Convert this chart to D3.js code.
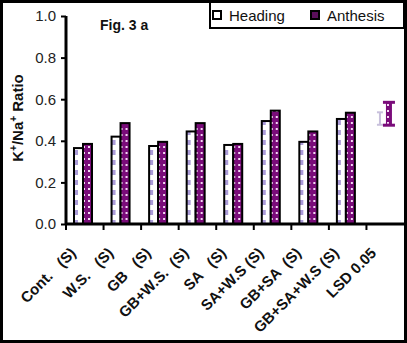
<!DOCTYPE html>
<html>
<head>
<meta charset="utf-8">
<script src="https://cdn.jsdelivr.net/npm/d3@7"></script>
<style>
  body { margin: 0; background: #fff; }
  svg { display: block; font-family: "Liberation Sans", Arial, sans-serif; }
</style>
</head>
<body>
<div id="chart"></div>
<script>
// Chart data
const categories = ["Cont.   (S)", "W.S.   (S)", "GB   (S)", "GB+W.S.  (S)", "SA   (S)",
    "SA+W.S (S)", "GB+SA  (S)", "GB+SA+W.S (S)", "LSD 0.05"];
const series = ["Heading", "Anthesis"];
const heading = [0.365, 0.42, 0.375, 0.445, 0.38, 0.495, 0.395, 0.505];
const anthesis = [0.385, 0.485, 0.395, 0.485, 0.385, 0.545, 0.445, 0.535];
// LSD 0.05 drawn as error bars: [centre, half length]
const lsdHeading = [0.507, 0.03];
const lsdAnthesis = [0.53, 0.055];
const yTicks = [0, 0.2, 0.4, 0.6, 0.8, 1.0];

const width = 407;
const height = 343;

const svg = d3.select('#chart')
    .append('svg')
    .attr('width', width)
    .attr('height', height);

// patterns for the two series
const defs = svg.append('defs');
const pH = defs.append('pattern')
    .attr('id', 'patHeading')
    .attr('patternUnits', 'userSpaceOnUse')
    .attr('width', 8).attr('height', 10);
pH.append('rect').attr('width', 8).attr('height', 10).attr('fill', '#fff');
pH.append('rect').attr('x', 0).attr('y', 0).attr('width', 4).attr('height', 5).attr('fill', '#ab9cd8');

const pA = defs.append('pattern')
    .attr('id', 'patAnthesis')
    .attr('patternUnits', 'userSpaceOnUse')
    .attr('width', 5).attr('height', 6);
pA.append('rect').attr('width', 5).attr('height', 6).attr('fill', '#7a0c7a');
pA.append('rect').attr('x', 2).attr('y', 2).attr('width', 2).attr('height', 2).attr('fill', '#f4d8f4');

// scales
const x = d3.scaleBand()
    .domain(categories)
    .range([66, 404]);

const x1 = d3.scaleBand()
    .domain(series)
    .range([8, 26]);

const y = d3.scaleLinear()
    .domain([0, 1])
    .range([224, 16]);

// bars
const rows = categories.slice(0, 8).map((c, i) => ({ cat: c, Heading: heading[i], Anthesis: anthesis[i] }));

const groups = svg.append('g')
    .selectAll('g')
    .data(rows)
    .enter()
    .append('g')
    .attr('transform', d => `translate(${x(d.cat)},0)`);

groups.selectAll('rect')
    .data(d => series.map(s => ({ s: s, v: d[s] })))
    .enter()
    .append('rect')
    .attr('x', d => x1(d.s))
    .attr('y', d => y(d.v))
    .attr('width', x1.bandwidth())
    .attr('height', d => y(0) - y(d.v))
    .attr('fill', d => d.s === 'Heading' ? 'url(#patHeading)' : 'url(#patAnthesis)')
    .attr('stroke', '#000')
    .attr('stroke-width', 2);

// LSD error bars
const lsdX = x('LSD 0.05');
const hx = lsdX + x1('Heading') + x1.bandwidth() / 2 + 1;
svg.append('line')
    .attr('x1', hx).attr('x2', hx)
    .attr('y1', y(lsdHeading[0] + lsdHeading[1])).attr('y2', y(lsdHeading[0] - lsdHeading[1]))
    .attr('stroke', '#c8c0dc').attr('stroke-width', 2);
[1, -1].forEach(k => {
    svg.append('line')
        .attr('x1', hx - 3).attr('x2', hx + 3)
        .attr('y1', y(lsdHeading[0] + k * lsdHeading[1])).attr('y2', y(lsdHeading[0] + k * lsdHeading[1]))
        .attr('stroke', '#c8c0dc').attr('stroke-width', 2);
});

const ax = lsdX + x1('Anthesis') + x1.bandwidth() / 2 + 1;
svg.append('rect')
    .attr('x', ax - 3).attr('width', 6)
    .attr('y', y(lsdAnthesis[0] + lsdAnthesis[1]))
    .attr('height', y(lsdAnthesis[0] - lsdAnthesis[1]) - y(lsdAnthesis[0] + lsdAnthesis[1]))
    .attr('fill', 'url(#patAnthesis)');
[1, -1].forEach(k => {
    svg.append('rect')
        .attr('x', ax - 6).attr('width', 12)
        .attr('y', y(lsdAnthesis[0] + k * lsdAnthesis[1]) - 1.5).attr('height', 3)
        .attr('fill', '#7a0c7a');
});

// y axis
const yAxis = svg.append('g')
    .attr('transform', 'translate(66,0)')
    .call(d3.axisLeft(y).tickValues(yTicks).tickFormat(d3.format('.1f')).tickSize(5).tickPadding(5));
yAxis.select('.domain').attr('stroke-width', 3).attr('d', `M0,${y(1)}V${y(0)}`);
yAxis.selectAll('.tick line').attr('stroke-width', 2);
yAxis.selectAll('.tick text')
    .attr('font-size', 15)
    .attr('font-family', '"Liberation Sans", Arial, sans-serif')
    .attr('fill', '#222');

// x axis (ticks at band edges)
svg.append('line')
    .attr('x1', 65).attr('x2', 404)
    .attr('y1', y(0)).attr('y2', y(0))
    .attr('stroke', '#000').attr('stroke-width', 3);
svg.append('g')
    .selectAll('line')
    .data(categories)
    .enter()
    .append('line')
    .attr('x1', d => x(d)).attr('x2', d => x(d))
    .attr('y1', y(0)).attr('y2', y(0) + 6)
    .attr('stroke', '#000').attr('stroke-width', 2);

svg.append('g')
    .selectAll('text')
    .data(categories)
    .enter()
    .append('text')
    .attr('transform', d => `translate(${x(d) + x.bandwidth() / 2 - 8},${y(0) + 30}) rotate(-45)`)
    .attr('text-anchor', 'end')
    .attr('font-size', 15)
    .attr('font-weight', 'bold')
    .style('white-space', 'pre')
    .attr('fill', '#111')
    .text(d => d);

// axis title
svg.append('text')
    .attr('transform', 'rotate(-90)')
    .attr('x', -118)
    .attr('y', 23)
    .attr('text-anchor', 'middle')
    .attr('font-size', 15)
    .attr('font-weight', 'bold')
    .attr('fill', '#111')
    .html('K<tspan dy="-6" font-size="10">+</tspan><tspan dy="6">/Na</tspan><tspan dy="-6" font-size="10">+</tspan><tspan dy="6"> Ratio</tspan>');

// figure label
svg.append('text')
    .attr('x', 100)
    .attr('y', 30)
    .attr('font-size', 14)
    .attr('font-weight', 'bold')
    .attr('fill', '#111')
    .text('Fig. 3 a');

// legend
const legend = svg.append('g');
legend.append('rect')
    .attr('x', 210).attr('y', 1)
    .attr('width', 194).attr('height', 27)
    .attr('fill', '#fff')
    .attr('stroke', '#000').attr('stroke-width', 2);
const legX = [213, 311];
series.forEach((s, i) => {
    legend.append('rect')
        .attr('x', legX[i]).attr('y', 11)
        .attr('width', 8).attr('height', 8)
        .attr('fill', i === 0 ? '#fff' : '#5a0f5a')
        .attr('stroke', '#000').attr('stroke-width', 2);
    legend.append('text')
        .attr('x', legX[i] + 16).attr('y', 21)
        .attr('font-size', 15)
        .attr('fill', '#111')
        .text(s);
});

// outer frame
svg.append('rect')
    .attr('x', 1.5).attr('y', 1.5)
    .attr('width', width - 3).attr('height', height - 3)
    .attr('fill', 'none')
    .attr('stroke', '#000').attr('stroke-width', 3);
</script>
</body>
</html>
